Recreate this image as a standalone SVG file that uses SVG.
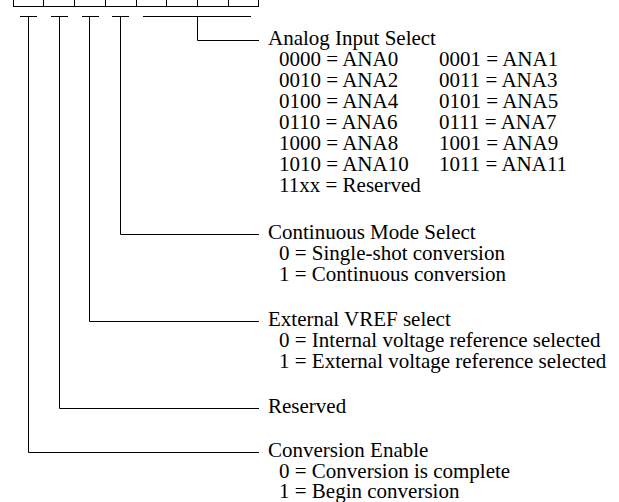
<svg xmlns="http://www.w3.org/2000/svg" width="619" height="502" viewBox="0 0 619 502">
<style>
.ln{stroke:#000;stroke-width:1;fill:none}
text{font-family:"Liberation Serif","Times New Roman",serif;font-size:21px;fill:#000}
</style>
<rect width="619" height="502" fill="#fff"/>
<g id="register">
<path class="ln" d="M13,6.5 H259 M13.5,0 V6.5 M43.5,0 V6.5 M74.5,0 V6.5 M105.5,0 V6.5 M136.5,0 V6.5 M166.5,0 V6.5 M197.5,0 V6.5 M228.5,0 V6.5 M258.5,0 V6.5"/>
</g>
<g id="connectors">
<path class="ln" d="M20,16.5 H37 M28.5,16.5 V452.5 H259"/>
<path class="ln" d="M51,16.5 H68 M59.5,16.5 V408.5 H259"/>
<path class="ln" d="M82,16.5 H99 M89.5,16.5 V321.5 H259"/>
<path class="ln" d="M112,16.5 H129 M120.5,16.5 V234.5 H259"/>
<path class="ln" d="M143,16.5 H251 M197.5,16.5 V40.5 H259"/>
</g>
<g id="analog">
<text x="268" y="45">Analog Input Select</text>
<text x="279" y="66">0000 = ANA0</text><text x="439" y="66">0001 = ANA1</text>
<text x="279" y="87">0010 = ANA2</text><text x="439" y="87">0011 = ANA3</text>
<text x="279" y="108">0100 = ANA4</text><text x="439" y="108">0101 = ANA5</text>
<text x="279" y="129">0110 = ANA6</text><text x="439" y="129">0111 = ANA7</text>
<text x="279" y="150">1000 = ANA8</text><text x="439" y="150">1001 = ANA9</text>
<text x="279" y="171">1010 = ANA10</text><text x="439" y="171">1011 = ANA11</text>
<text x="279" y="192">11xx = Reserved</text>
</g>
<g id="continuous">
<text x="268" y="239">Continuous Mode Select</text>
<text x="279" y="260">0 = Single-shot conversion</text>
<text x="279" y="281">1 = Continuous conversion</text>
</g>
<g id="vref">
<text x="268" y="326">External VREF select</text>
<text x="279" y="347">0 = Internal voltage reference selected</text>
<text x="279" y="368">1 = External voltage reference selected</text>
</g>
<g id="reserved">
<text x="268" y="413">Reserved</text>
</g>
<g id="enable">
<text x="268" y="457">Conversion Enable</text>
<text x="279" y="478">0 = Conversion is complete</text>
<text x="279" y="498">1 = Begin conversion</text>
</g>
</svg>
